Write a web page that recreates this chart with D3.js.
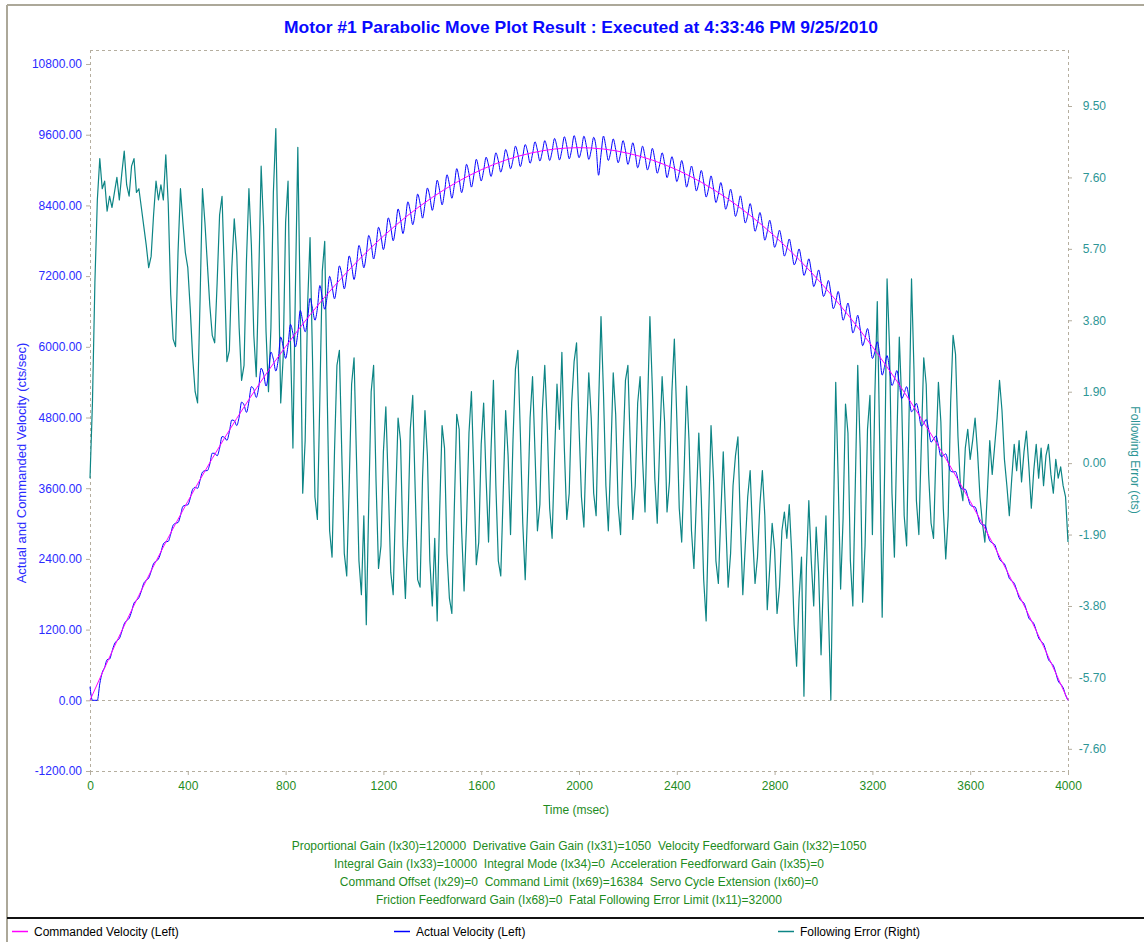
<!DOCTYPE html>
<html>
<head>
<meta charset="utf-8">
<script src="https://cdn.jsdelivr.net/npm/d3@7"></script>
<style>
  html, body { margin: 0; padding: 0; background: #ffffff; }
  svg { display: block; font-family: "Liberation Sans", Arial, sans-serif; }
  text { white-space: pre; }
</style>
</head>
<body>
<svg id="chart" width="1144" height="942"></svg>
<script>
// ---- Motor #1 parabolic move: sampled data ----
const TITLE = "Motor #1 Parabolic Move Plot Result : Executed at 4:33:46 PM 9/25/2010";

// commanded velocity (cts/sec), one value per 100 ms
const CMD_STEP_MS = 100;
const commandedVelocity = [0, 915, 1782, 2603, 3377, 4104, 4784, 5417, 6003, 6543, 7035, 7481, 7879, 8231, 8536, 8794, 9005, 9169, 9286, 9357, 9380, 9357, 9286, 9169, 9005, 8794, 8536, 8231, 7879, 7481, 7035, 6543, 6003, 5417, 4784, 4104, 3377, 2603, 1782, 915, 0];

// actual velocity (cts/sec) and following error (cts), one value per 10 ms
const SAMPLE_MS = 10;
const actualVelocity = [
  230, 0, 0, 0, 280, 470, 560, 690, 700, 830,
  955, 1012, 1048, 1165, 1297, 1354, 1390, 1507, 1649, 1695,
  1742, 1854, 1986, 2038, 2075, 2188, 2320, 2362, 2399, 2511,
  2653, 2690, 2698, 2820, 2973, 3005, 3017, 3135, 3292, 3310,
  3317, 3430, 3582, 3615, 3598, 3731, 3873, 3896, 3899, 4011,
  4194, 4192, 4150, 4278, 4476, 4464, 4412, 4560, 4758, 4746,
  4664, 4807, 5061, 5014, 4887, 5071, 5324, 5277, 5140, 5314,
  5637, 5536, 5334, 5543, 5911, 5790, 5589, 5787, 6166, 6004,
  5803, 6027, 6381, 6225, 5999, 6233, 6617, 6431, 6255, 6469,
  6823, 6652, 6451, 6651, 7040, 6839, 6638, 6857, 7197, 7026,
  6815, 7050, 7374, 7219, 6983, 7218, 7543, 7377, 7142, 7386,
  7721, 7561, 7341, 7570, 7890, 7740, 7490, 7710, 8029, 7879,
  7649, 7874, 8189, 8035, 7800, 8025, 8340, 8165, 7921, 8156,
  8461, 8302, 8072, 8283, 8593, 8434, 8184, 8415, 8695, 8546,
  8316, 8532, 8828, 8653, 8409, 8625, 8921, 8757, 8522, 8738,
  9024, 8845, 8616, 8817, 9098, 8940, 8711, 8912, 9183, 9014,
  8815, 8991, 9218, 9084, 8891, 9067, 9293, 9160, 8966, 9123,
  9349, 9211, 9022, 9174, 9406, 9268, 9059, 9231, 9433, 9304,
  9116, 9273, 9480, 9337, 9154, 9302, 9499, 9356, 9163, 9320,
  9537, 9389, 9172, 9334, 9566, 9409, 9191, 9353, 9585, 9418,
  9210, 9348, 9575, 9413, 9181, 9339, 9556, 9384, 8912, 9259,
  9577, 9390, 9163, 9316, 9529, 9352, 9124, 9277, 9500, 9333,
  9096, 9254, 9463, 9281, 9039, 9198, 9406, 9224, 9002, 9141,
  9369, 9183, 8946, 9090, 9293, 9117, 8871, 9034, 9228, 9051,
  8805, 8954, 9163, 8972, 8711, 8870, 9068, 8887, 8646, 8785,
  8994, 8798, 8542, 8687, 8901, 8695, 8449, 8593, 8788, 8592,
  8336, 8476, 8675, 8475, 8214, 8354, 8563, 8353, 8102, 8232,
  8431, 8226, 7961, 8095, 8280, 8075, 7810, 7955, 8149, 7944,
  7689, 7809, 7979, 7790, 7540, 7660, 7830, 7630, 7391, 7491,
  7661, 7466, 7212, 7327, 7493, 7288, 7023, 7139, 7304, 7100,
  6855, 6956, 7127, 6917, 6648, 6759, 6940, 6721, 6451, 6572,
  6743, 6519, 6235, 6351, 6537, 6303, 6019, 6145, 6311, 6087,
  5803, 5914, 6086, 5857, 5519, 5670, 5851, 5623, 5344, 5446,
  5597, 5384, 5120, 5207, 5324, 5121, 4897, 4954, 5041, 4867,
  4654, 4696, 4768, 4600, 4382, 4434, 4486, 4328, 4140, 4152,
  4184, 4041, 3889, 3876, 3883, 3751, 3608, 3585, 3582, 3460,
  3317, 3290, 3282, 3155, 3017, 2980, 2973, 2845, 2708, 2670,
  2643, 2521, 2399, 2347, 2315, 2203, 2070, 2028, 1986, 1874,
  1742, 1685, 1649, 1532, 1395, 1349, 1302, 1185, 1058, 1002,
  955, 833, 692, 640, 589, 467, 326, 274, 213, 91,
  0
];
const followingError = [
  -0.4, 1.6, 4.8, 7.0, 8.1, 7.3, 7.5, 6.7, 7.1, 6.8,
  7.2, 7.6, 7.0, 7.7, 8.3, 7.4, 7.1, 7.9, 8.1, 7.2,
  7.3, 6.8, 6.3, 5.8, 5.2, 5.5, 6.6, 7.5, 7.0, 7.4,
  7.0, 8.2, 6.9, 4.5, 3.3, 3.1, 5.6, 7.3, 6.4, 5.6,
  5.2, 4.1, 2.8, 1.9, 1.6, 4.3, 7.3, 6.4, 5.3, 4.2,
  3.4, 3.2, 4.8, 6.6, 7.1, 5.0, 2.7, 3.0, 5.2, 6.5,
  5.6, 3.6, 2.2, 2.6, 5.4, 7.3, 5.8, 3.4, 2.3, 4.9,
  7.9, 6.3, 3.5, 1.9, 3.6, 7.2, 8.9, 5.4, 1.6, 2.8,
  6.4, 7.5, 3.2, 0.4, 4.6, 8.4, 4.1, -0.8, 0.6, 4.2,
  6.0, 2.8, -0.9, -1.5, 1.7, 5.1, 5.9, 1.9, -1.8, -2.5,
  0.3, 2.6, 3.0, 0.2, -2.4, -3.0, -0.6, 2.1, 2.8, 0.1,
  -2.6, -3.5, -1.4, -4.3, -1.1, 1.9, 2.6, -0.5, -2.8, -2.2,
  0.3, 1.5, -0.6, -2.9, -3.5, -1.0, 1.2, 0.6, -2.2, -3.6,
  -1.8, 0.9, 1.8, -0.7, -3.1, -3.3, -0.4, 1.4, 0.2, -2.6,
  -3.8, -2.0, -4.2, -1.3, 1.0, 0.4, -2.4, -3.6, -4.0, -1.2,
  1.3, 0.9, -1.8, -3.4, -1.6, 0.8, 1.9, -0.3, -2.7, -2.1,
  0.5, 1.6, -0.4, -2.1, 0.3, 2.2, -0.6, -2.6, -3.0, -0.8,
  1.4, 0.2, -1.9, 0.6, 2.5, 3.0, 0.8, -1.6, -3.1, -1.2,
  1.2, 2.3, 0.3, -1.8, -1.1, 1.4, 2.6, 1.0, -1.2, -2.0,
  0.2, 2.1, 0.9, 2.95, 0.4, -1.5, -0.8, 1.6, 2.7, 3.2,
  1.0, -0.9, -1.7, 0.6, 2.4, 1.2, -0.8, -1.4, 1.5, 3.9,
  1.9, -0.6, -1.8, 0.2, 2.4, 1.3, -1.1, -1.9, 0.3, 2.2,
  2.6, 0.4, -1.5, -0.6, 1.6, 2.3, 0.1, -1.3, 1.4, 3.9,
  2.0, -0.4, -1.6, 0.5, 2.3, 1.1, -1.3, -0.5, 1.9, 3.3,
  1.2, -1.2, -2.1, -0.2, 2.05, 0.6, -1.8, -2.8, -1.0, 0.8,
  -0.9, -3.1, -4.2, -1.5, 1.0, -0.4, -2.6, -3.2, -1.4, 0.3,
  -1.5, -3.3, -2.4, -0.6, 0.2, 0.7, -1.6, -3.5, -2.2, -0.9,
  -0.2, -1.9, -3.2, -2.5, -1.1, -0.2, -1.4, -3.9, -2.8, -1.6,
  -2.3, -4.0, -3.3, -1.8, -1.3, -2.0, -1.1, -2.4, -4.3, -5.4,
  -3.6, -2.5, -6.2, -2.8, -1.0, -2.6, -3.8, -1.7, -2.9, -5.1,
  -3.0, -1.4, -3.9, -6.3, -1.8, 2.15, -0.4, -3.35, -1.5, 1.57,
  0.8, -2.6, -3.8, -0.6, 2.6, 0.4, -3.7, -2.2, 0.9, 1.8,
  -1.9, 1.8, 4.3, 0.5, -4.1, -0.2, 4.9, 3.1, -0.8, -2.5,
  0.6, 3.35, 1.6, -1.4, -2.2, 1.3, 4.9, 2.5, -1.0, -1.9,
  0.5, 2.8, 2.1, -0.3, -1.6, -2.0, 0.3, 2.15, 1.1, -1.2,
  -2.55, -1.4, 1.6, 3.4, 2.9, 0.7, -0.6, -1.0, 0.4, 0.9,
  0.1, 0.6, 1.2, 0.3, -0.9, -1.6, -2.1, -0.8, 0.6, -0.3,
  0.45, 1.2, 2.2, 1.4, 0.1, -0.6, -1.4, -0.4, 0.5, -0.2,
  0.6, -0.5, 0.3, 0.85, -0.1, -1.2, -0.2, 0.5, -0.4, 0.4,
  -0.6, 0.2, 0.5, -0.3, -0.8, 0.1, -0.4, -0.1, -0.6, -0.9,
  -2.1
];

// axis ticks
const timeTicks = [0, 400, 800, 1200, 1600, 2000, 2400, 2800, 3200, 3600, 4000];
const velocityTicks = [-1200, 0, 1200, 2400, 3600, 4800, 6000, 7200, 8400, 9600, 10800];
const errorTicks = [-7.6, -5.7, -3.8, -1.9, 0, 1.9, 3.8, 5.7, 7.6, 9.5];

// gain settings printed under the plot
const gainLines = [
  "Proportional Gain (Ix30)=120000  Derivative Gain Gain (Ix31)=1050  Velocity Feedforward Gain (Ix32)=1050",
  "Integral Gain (Ix33)=10000  Integral Mode (Ix34)=0  Acceleration Feedforward Gain (Ix35)=0",
  "Command Offset (Ix29)=0  Command Limit (Ix69)=16384  Servo Cycle Extension (Ix60)=0",
  "Friction Feedforward Gain (Ix68)=0  Fatal Following Error Limit (Ix11)=32000"
];

const legendItems = [
  { label: "Commanded Velocity (Left)", color: "#ff00ff", x: 12 },
  { label: "Actual Velocity (Left)", color: "#0000ff", x: 394 },
  { label: "Following Error (Right)", color: "#0d8585", x: 778 }
];

// ---- layout ----
const svg = d3.select("#chart");
const plot = { left: 90, right: 1068, top: 50, bottom: 771 };
const gridColor = "#b5ae9f";

const x = d3.scaleLinear().domain([0, 4000]).range([plot.left, plot.right]);
const yLeft = d3.scaleLinear().domain([-1200, 11038]).range([plot.bottom, plot.top]);
const yRight = d3.scaleLinear().domain([-8.19, 10.99]).range([plot.bottom, plot.top]);

svg.append("rect").attr("width", 1144).attr("height", 942).attr("fill", "#ffffff");

// outer panel frame
svg.append("line").attr("x1", 7).attr("x2", 1144).attr("y1", 5).attr("y2", 5)
  .attr("stroke", "#aca899").attr("stroke-width", 2);
svg.append("line").attr("x1", 7).attr("x2", 7).attr("y1", 5).attr("y2", 942)
  .attr("stroke", "#aca899").attr("stroke-width", 2);
svg.append("line").attr("x1", 7).attr("x2", 1144).attr("y1", 918).attr("y2", 918)
  .attr("stroke", "#111111").attr("stroke-width", 2);

// title
svg.append("text")
  .attr("x", 581).attr("y", 33)
  .attr("text-anchor", "middle")
  .attr("font-size", 17).attr("font-weight", "bold")
  .attr("fill", "#0a0aff")
  .attr("textLength", 594).attr("lengthAdjust", "spacingAndGlyphs")
  .text(TITLE);

// dashed plot frame and zero-velocity line
const dashed = svg.append("g").attr("stroke", gridColor).attr("stroke-width", 1)
  .attr("stroke-dasharray", "3,3").attr("fill", "none");
dashed.append("line").attr("x1", plot.left).attr("x2", plot.right).attr("y1", plot.top + 0.5).attr("y2", plot.top + 0.5);
dashed.append("line").attr("x1", plot.left).attr("x2", plot.right).attr("y1", plot.bottom + 0.5).attr("y2", plot.bottom + 0.5);
dashed.append("line").attr("x1", plot.left + 0.5).attr("x2", plot.left + 0.5).attr("y1", plot.top).attr("y2", plot.bottom);
dashed.append("line").attr("x1", plot.right + 0.5).attr("x2", plot.right + 0.5).attr("y1", plot.top).attr("y2", plot.bottom);
dashed.append("line").attr("x1", plot.left).attr("x2", plot.right)
  .attr("y1", Math.round(yLeft(0)) + 0.5).attr("y2", Math.round(yLeft(0)) + 0.5);

// axes
function styleAxis(g, color) {
  g.select(".domain").remove();
  g.selectAll(".tick line").attr("stroke", gridColor);
  g.selectAll(".tick text").attr("fill", color).attr("font-size", 12)
    .attr("font-family", "'Liberation Sans', Arial, sans-serif");
}

svg.append("g").attr("transform", `translate(${plot.left},0)`)
  .call(d3.axisLeft(yLeft).tickValues(velocityTicks).tickSize(4).tickPadding(4)
    .tickFormat(d => d.toFixed(2)))
  .call(g => styleAxis(g, "#2b2bff"));

svg.append("g").attr("transform", `translate(${plot.right},0)`)
  .call(d3.axisRight(yRight).tickValues(errorTicks).tickSize(4).tickPadding(10)
    .tickFormat(d => d.toFixed(2)))
  .call(g => styleAxis(g, "#2e9696"))
  .call(g => g.selectAll(".tick text").attr("text-anchor", "end").attr("x", 38));

svg.append("g").attr("transform", `translate(0,${plot.bottom})`)
  .call(d3.axisBottom(x).tickValues(timeTicks).tickSize(4).tickPadding(6)
    .tickFormat(d3.format("d")))
  .call(g => styleAxis(g, "#1e8c1e"));

// axis titles
svg.append("text")
  .attr("transform", "translate(26,463) rotate(-90)")
  .attr("text-anchor", "middle").attr("font-size", 13).attr("fill", "#2b2bff")
  .text("Actual and Commanded Velocity (cts/sec)");
svg.append("text")
  .attr("transform", "translate(1131,460) rotate(90)")
  .attr("text-anchor", "middle").attr("font-size", 12).attr("fill", "#2e9696")
  .text("Following Error (cts)");
svg.append("text")
  .attr("x", 576).attr("y", 814)
  .attr("text-anchor", "middle").attr("font-size", 12).attr("fill", "#1e8c1e")
  .text("Time (msec)");

// series
const errLine = d3.line()
  .x((d, i) => x(i * SAMPLE_MS)).y(d => yRight(d));
const velLine = d3.line()
  .x((d, i) => x(i * SAMPLE_MS)).y(d => yLeft(d))
  .curve(d3.curveMonotoneX);
const cmdLine = d3.line()
  .x((d, i) => x(i * CMD_STEP_MS)).y(d => yLeft(d))
  .curve(d3.curveNatural);

svg.append("path").datum(followingError)
  .attr("d", errLine).attr("fill", "none")
  .attr("stroke", "#0d8585").attr("stroke-width", 1.2).attr("stroke-linejoin", "round");
svg.append("path").datum(actualVelocity)
  .attr("d", velLine).attr("fill", "none")
  .attr("stroke", "#0000ff").attr("stroke-width", 1).attr("stroke-linejoin", "round");
svg.append("path").datum(commandedVelocity)
  .attr("d", cmdLine).attr("fill", "none")
  .attr("stroke", "#ff00ff").attr("stroke-width", 1);

// gain settings
svg.append("g").selectAll("text").data(gainLines).join("text")
  .attr("x", 579).attr("y", (d, i) => 850 + i * 18)
  .attr("text-anchor", "middle").attr("font-size", 12).attr("fill", "#1e8c1e")
  .text(d => d);

// legend
const legend = svg.append("g").selectAll("g").data(legendItems).join("g")
  .attr("transform", d => `translate(${d.x},931)`);
legend.append("line").attr("x1", 0).attr("x2", 16).attr("y1", 0.5).attr("y2", 0.5)
  .attr("stroke", d => d.color).attr("stroke-width", 1.5);
legend.append("text").attr("x", 22).attr("y", 4.5)
  .attr("font-size", 12).attr("fill", "#000000")
  .text(d => d.label);
</script>
</body>
</html>
